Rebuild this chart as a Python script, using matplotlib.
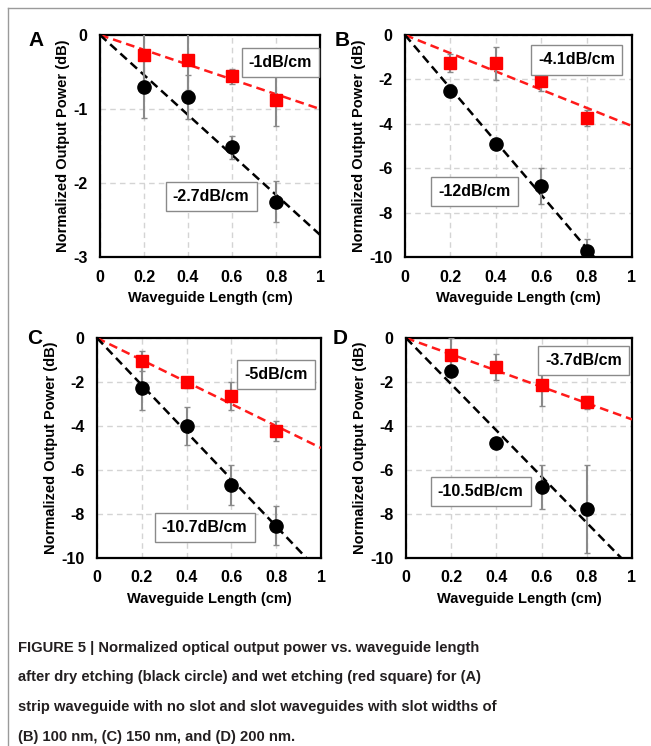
import matplotlib
matplotlib.use("Agg")
import matplotlib.pyplot as plt
from matplotlib.lines import Line2D

plt.rcParams['font.family'] = ['Liberation Sans', 'DejaVu Sans']
plt.rcParams['font.weight'] = 'bold'

# ---------------- data ----------------
lengths = [0.2, 0.4, 0.6, 0.8]
x_ticks = [0, 0.2, 0.4, 0.6, 0.8, 1]
x_ticklabels = ["0", "0.2", "0.4", "0.6", "0.8", "1"]
fit_x = [0, 1]

panel_letters = ["A", "B", "C", "D"]

# dry etching (black circle)
dry_A = [-0.70, -0.84, -1.52, -2.25]
dry_A_err = [0.42, 0.30, 0.15, 0.28]
dry_B = [-2.50, -4.90, -6.80, -9.75]
dry_B_err = [0.30, 0.10, 0.80, 0.55]
dry_C = [-2.25, -4.00, -6.68, -8.53]
dry_C_err = [1.00, 0.85, 0.90, 0.90]
dry_D = [-1.50, -4.79, -6.78, -7.76]
dry_D_err = [0.10, 0.10, 1.00, 2.00]

# wet etching (red square)
wet_A = [-0.27, -0.34, -0.56, -0.88]
wet_A_err = [0.35, 0.40, 0.10, 0.35]
wet_B = [-1.27, -1.27, -2.07, -3.75]
wet_B_err = [0.40, 0.75, 0.45, 0.35]
wet_C = [-1.06, -2.02, -2.64, -4.21]
wet_C_err = [0.45, 0.25, 0.65, 0.45]
wet_D = [-0.79, -1.31, -2.14, -2.93]
wet_D_err = [0.80, 0.60, 0.95, 0.30]

# fitted slopes (dB/cm)
dry_slopes = [-2.7, -12, -10.7, -10.5]
wet_slopes = [-1, -4.1, -5, -3.7]

y_ticks_A = [0, -1, -2, -3]
y_ticks_BCD = [0, -2, -4, -6, -8, -10]

caption_lines = [
    "FIGURE 5 | Normalized optical output power vs. waveguide length",
    "after dry etching (black circle) and wet etching (red square) for (A)",
    "strip waveguide with no slot and slot waveguides with slot widths of",
    "(B) 100 nm, (C) 150 nm, and (D) 200 nm.",
]

# ---------------- layout ----------------
W, H = 651, 746
fig = plt.figure(figsize=(W / 100, H / 100), dpi=100)

def px_axes(l, t, r, b):
    return [l / W, 1 - b / H, (r - l) / W, (b - t) / H]

axes_boxes = [
    px_axes(100, 35, 320, 257),
    px_axes(405, 35, 632, 257),
    px_axes(97, 338, 321, 558),
    px_axes(406, 338, 632, 558),
]
letter_pos = [(36, 40), (342, 40), (35, 338), (340, 338)]

dry_all = [dry_A, dry_B, dry_C, dry_D]
dry_err_all = [dry_A_err, dry_B_err, dry_C_err, dry_D_err]
wet_all = [wet_A, wet_B, wet_C, wet_D]
wet_err_all = [wet_A_err, wet_B_err, wet_C_err, wet_D_err]
yticks_all = [y_ticks_A, y_ticks_BCD, y_ticks_BCD, y_ticks_BCD]

# annotation box positions (data coords)
wet_box_pos = [(0.82, -0.37), (0.755, -1.12), (0.80, -1.66), (0.786, -1.01)]
dry_box_pos = [(0.505, -2.18), (0.305, -7.05), (0.48, -8.6), (0.33, -6.98)]

err_color = "#8a8a8a"
for i in range(4):
    ax = fig.add_axes(axes_boxes[i])
    yt = yticks_all[i]
    ax.set_xlim(0, 1)
    ax.set_ylim(min(yt), max(yt))
    ax.set_xticks(x_ticks)
    ax.set_xticklabels(x_ticklabels)
    ax.set_yticks(yt)
    ax.set_yticklabels([str(v) for v in yt])
    ax.tick_params(length=0, labelsize=11.5, pad=9)
    for lab in ax.get_xticklabels() + ax.get_yticklabels():
        lab.set_fontweight('bold')
    ax.grid(True, color="#d4d4d4", linestyle=(0, (4, 3)), linewidth=1.0)
    ax.set_axisbelow(True)
    for s in ax.spines.values():
        s.set_linewidth(1.6)
        s.set_color("black")

    # fit lines
    ax.plot(fit_x, [wet_slopes[i] * v for v in fit_x], color="#ff1a1a",
            linestyle=(0, (3.5, 2)), linewidth=1.8, zorder=3)
    ax.plot(fit_x, [dry_slopes[i] * v for v in fit_x], color="black",
            linestyle=(0, (3.5, 2)), linewidth=1.8, zorder=3)

    # data with error bars
    ax.errorbar(lengths, wet_all[i], yerr=wet_err_all[i], fmt='s',
                color="#ff0000", markersize=8, ecolor=err_color,
                elinewidth=1.5, capsize=2.5, capthick=1.0, zorder=4)
    ax.errorbar(lengths, dry_all[i], yerr=dry_err_all[i], fmt='o',
                color="black", markersize=9.5, ecolor=err_color,
                elinewidth=1.5, capsize=2.5, capthick=1.0, zorder=4)

    bbox = dict(boxstyle="square,pad=0.45", facecolor="white",
                edgecolor="#8a8a8a", linewidth=1.0)
    ax.text(*wet_box_pos[i], f"{wet_slopes[i]:g}dB/cm", ha='center',
            va='center', fontsize=11.5, fontweight='bold', bbox=bbox, zorder=5)
    ax.text(*dry_box_pos[i], f"{dry_slopes[i]:g}dB/cm", ha='center',
            va='center', fontsize=11.5, fontweight='bold', bbox=bbox, zorder=5)

    ax.set_xlabel("Waveguide Length (cm)", fontsize=10.5, fontweight='bold',
                  labelpad=5)
    ax.set_ylabel("Normalized Output Power (dB)", fontsize=10.5,
                  fontweight='bold', labelpad=2)

    lx, ly = letter_pos[i]
    fig.text(lx / W, 1 - ly / H, panel_letters[i], fontsize=15,
             fontweight='bold', ha='center', va='center')

# frame lines
fig.add_artist(Line2D([8 / W, 8 / W], [0, 1 - 8 / H], color="#9a9a9a",
                      linewidth=1.0, transform=fig.transFigure))
fig.add_artist(Line2D([8 / W, 1], [1 - 8 / H, 1 - 8 / H], color="#9a9a9a",
                      linewidth=1.0, transform=fig.transFigure))

# caption
for k, line in enumerate(caption_lines):
    fig.text(18 / W, 1 - (648 + 29.5 * k) / H, line, fontsize=10.6,
             fontweight='bold', color="#231f20", ha='left', va='center')

fig.savefig("out.png", dpi=100)
